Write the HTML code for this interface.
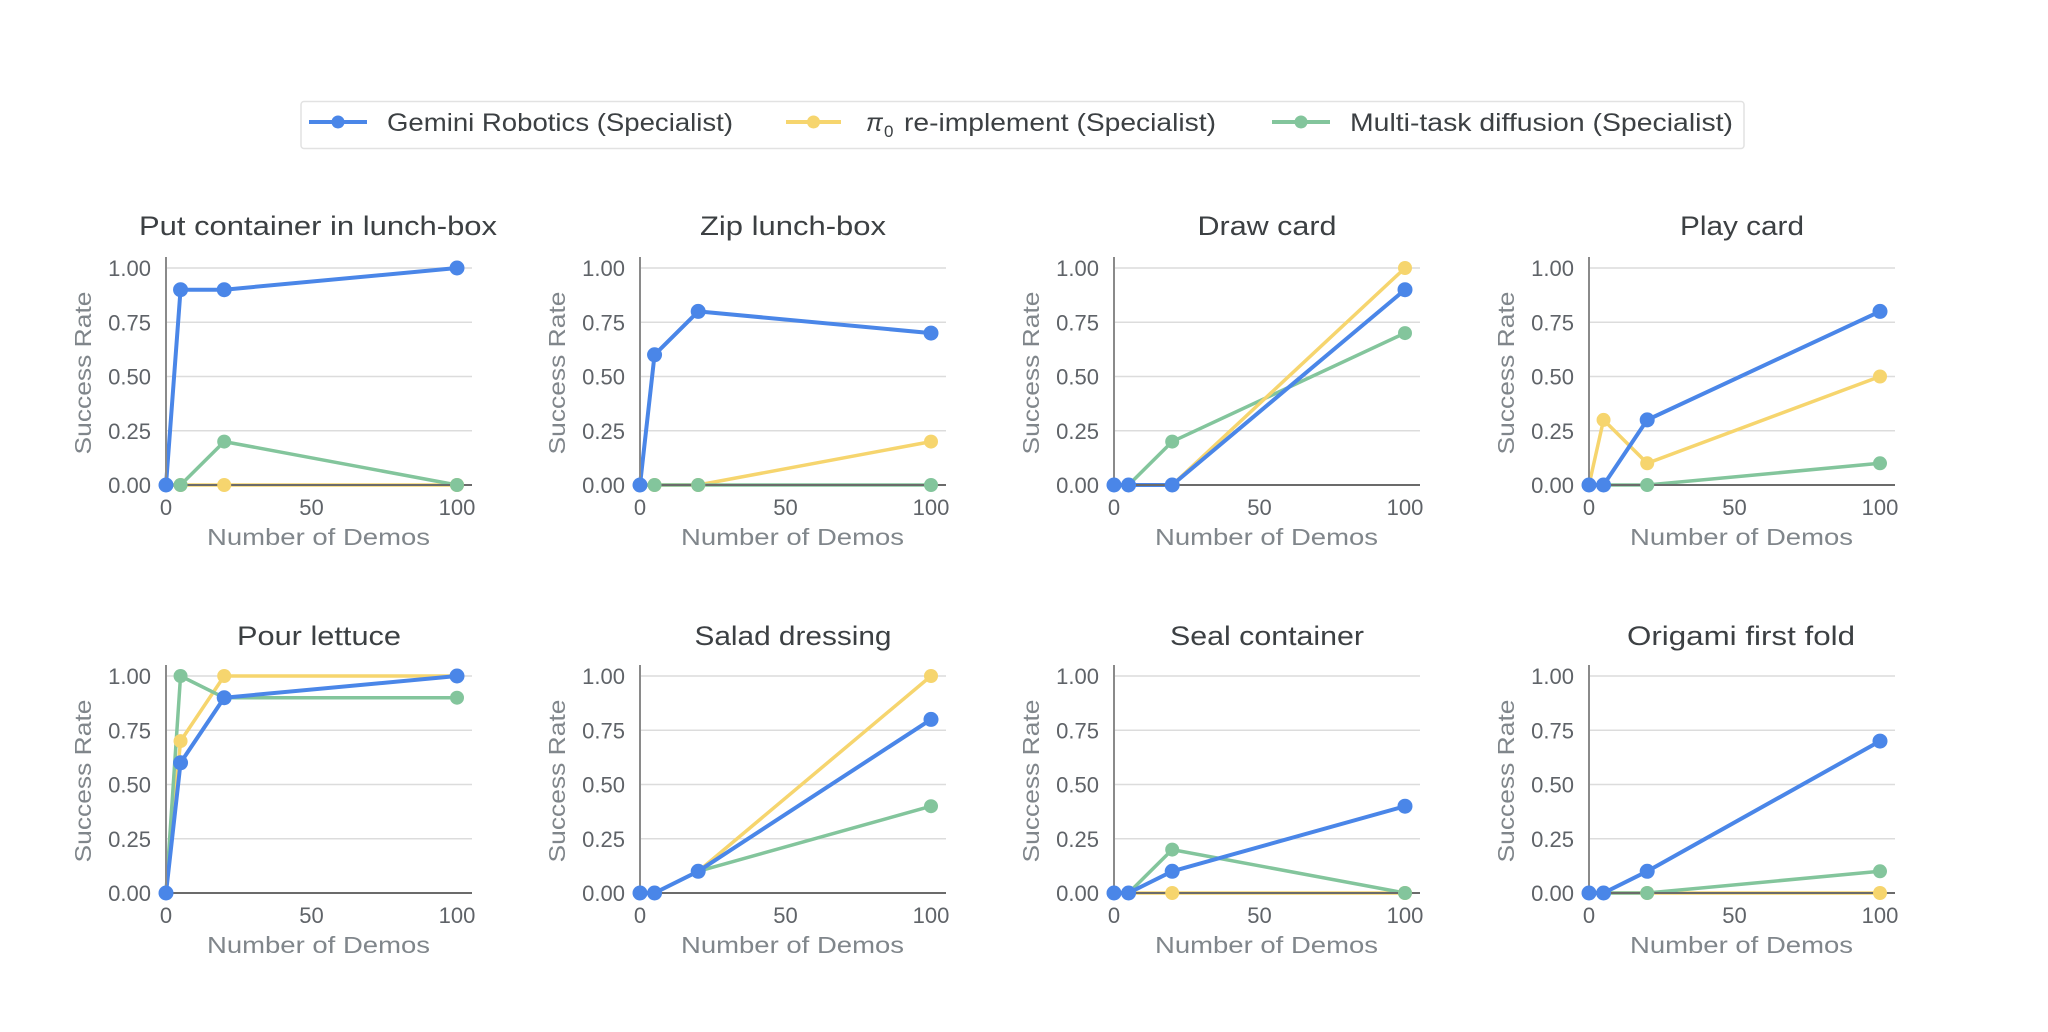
<!DOCTYPE html>
<html><head><meta charset="utf-8">
<style>
html,body{margin:0;padding:0;background:#fff;}
svg{display:block;}
text{font-family:"Liberation Sans",Arial,sans-serif;}
.tt{font-size:27px;fill:#3c4043;text-anchor:middle;}
.yt{font-size:22px;fill:#5f6368;text-anchor:end;}
.xt{font-size:22px;fill:#5f6368;text-anchor:middle;}
.al{font-size:23px;fill:#80868b;text-anchor:middle;}
.lg{font-size:25px;fill:#3c4043;}
.grid{stroke:#dcdcdc;stroke-width:1.5;}
.ax{stroke:#6b6b6b;stroke-width:2;}
.ay{stroke:#8a8a8a;stroke-width:2;}
.B{fill:none;stroke:#4a86e8;stroke-width:4;stroke-linejoin:round;}
.Y{fill:none;stroke:#f6d56e;stroke-width:3.5;stroke-linejoin:round;}
.G{fill:none;stroke:#83c59c;stroke-width:3.5;stroke-linejoin:round;}
.bm{fill:#4a86e8;}
.ym{fill:#f6d56e;}
.gm{fill:#83c59c;}
</style></head>
<body>
<svg width="2048" height="1032" viewBox="0 0 2048 1032" xmlns="http://www.w3.org/2000/svg">
<rect width="2048" height="1032" fill="#fff"/>

<!-- Legend -->
<rect x="301" y="101.5" width="1443" height="47" rx="3" fill="#fff" stroke="#e2e2e2" stroke-width="1.5"/>
<line x1="309" y1="122" x2="367" y2="122" stroke="#4a86e8" stroke-width="4"/>
<circle cx="338" cy="122" r="6.5" class="bm"/>
<text class="lg" x="387" y="131" textLength="346" lengthAdjust="spacingAndGlyphs">Gemini Robotics (Specialist)</text>
<line x1="786" y1="122" x2="841" y2="122" stroke="#f6d56e" stroke-width="4"/>
<circle cx="813.5" cy="122" r="6.5" class="ym"/>
<text class="lg" x="866" y="131" font-style="italic">π</text>
<text x="884" y="137" font-size="17" fill="#3c4043">0</text>
<text class="lg" x="904" y="131" textLength="312" lengthAdjust="spacingAndGlyphs">re-implement (Specialist)</text>
<line x1="1272" y1="122" x2="1330" y2="122" stroke="#83c59c" stroke-width="4"/>
<circle cx="1301" cy="122" r="6.5" class="gm"/>
<text class="lg" x="1350" y="131" textLength="383" lengthAdjust="spacingAndGlyphs">Multi-task diffusion (Specialist)</text>

<!-- P1 -->
<g transform="translate(166,485)">
<line class="grid" x1="0" y1="-54.25" x2="306" y2="-54.25"/><line class="grid" x1="0" y1="-108.5" x2="306" y2="-108.5"/><line class="grid" x1="0" y1="-162.75" x2="306" y2="-162.75"/><line class="grid" x1="0" y1="-217" x2="306" y2="-217"/>
<text class="yt" x="-15" y="8">0.00</text><text class="yt" x="-15" y="-46.25">0.25</text><text class="yt" x="-15" y="-100.5">0.50</text><text class="yt" x="-15" y="-154.75">0.75</text><text class="yt" x="-15" y="-209">1.00</text>
<text class="xt" x="0" y="30">0</text><text class="xt" x="145.5" y="30">50</text><text class="xt" x="291" y="30">100</text>
<text class="al" x="152.5" y="60" textLength="223" lengthAdjust="spacingAndGlyphs">Number of Demos</text>
<text class="al" transform="translate(-75,-112) rotate(-90)" x="0" y="0" textLength="163" lengthAdjust="spacingAndGlyphs">Success Rate</text>
<text class="tt" x="152" y="-250" textLength="358" lengthAdjust="spacingAndGlyphs">Put container in lunch-box</text>
<polyline class="Y" points="0,0 14.55,0 58.2,0 291,0"/>
<polyline class="G" points="0,0 14.55,0 58.2,-43.4 291,0"/>
<polyline class="B" points="0,0 14.55,-195.3 58.2,-195.3 291,-217"/>
<line class="ay" x1="0" y1="-228" x2="0" y2="0"/><line class="ax" x1="0" y1="0" x2="306" y2="0"/>
<circle class="ym" cx="0" cy="0" r="7"/><circle class="ym" cx="14.55" cy="0" r="7"/><circle class="ym" cx="58.2" cy="0" r="7"/><circle class="ym" cx="291" cy="0" r="7"/>
<circle class="gm" cx="0" cy="0" r="7"/><circle class="gm" cx="14.55" cy="0" r="7"/><circle class="gm" cx="58.2" cy="-43.4" r="7"/><circle class="gm" cx="291" cy="0" r="7"/>
<circle class="bm" cx="0" cy="0" r="7.5"/><circle class="bm" cx="14.55" cy="-195.3" r="7.5"/><circle class="bm" cx="58.2" cy="-195.3" r="7.5"/><circle class="bm" cx="291" cy="-217" r="7.5"/>
</g>

<!-- P2 -->
<g transform="translate(640,485)">
<line class="grid" x1="0" y1="-54.25" x2="306" y2="-54.25"/><line class="grid" x1="0" y1="-108.5" x2="306" y2="-108.5"/><line class="grid" x1="0" y1="-162.75" x2="306" y2="-162.75"/><line class="grid" x1="0" y1="-217" x2="306" y2="-217"/>
<text class="yt" x="-15" y="8">0.00</text><text class="yt" x="-15" y="-46.25">0.25</text><text class="yt" x="-15" y="-100.5">0.50</text><text class="yt" x="-15" y="-154.75">0.75</text><text class="yt" x="-15" y="-209">1.00</text>
<text class="xt" x="0" y="30">0</text><text class="xt" x="145.5" y="30">50</text><text class="xt" x="291" y="30">100</text>
<text class="al" x="152.5" y="60" textLength="223" lengthAdjust="spacingAndGlyphs">Number of Demos</text>
<text class="al" transform="translate(-75,-112) rotate(-90)" x="0" y="0" textLength="163" lengthAdjust="spacingAndGlyphs">Success Rate</text>
<text class="tt" x="153" y="-250" textLength="186" lengthAdjust="spacingAndGlyphs">Zip lunch-box</text>
<polyline class="Y" points="0,0 14.55,0 58.2,0 291,-43.4"/>
<polyline class="G" points="0,0 14.55,0 58.2,0 291,0"/>
<polyline class="B" points="0,0 14.55,-130.2 58.2,-173.6 291,-151.9"/>
<line class="ay" x1="0" y1="-228" x2="0" y2="0"/><line class="ax" x1="0" y1="0" x2="306" y2="0"/>
<circle class="ym" cx="0" cy="0" r="7"/><circle class="ym" cx="14.55" cy="0" r="7"/><circle class="ym" cx="58.2" cy="0" r="7"/><circle class="ym" cx="291" cy="-43.4" r="7"/>
<circle class="gm" cx="0" cy="0" r="7"/><circle class="gm" cx="14.55" cy="0" r="7"/><circle class="gm" cx="58.2" cy="0" r="7"/><circle class="gm" cx="291" cy="0" r="7"/>
<circle class="bm" cx="0" cy="0" r="7.5"/><circle class="bm" cx="14.55" cy="-130.2" r="7.5"/><circle class="bm" cx="58.2" cy="-173.6" r="7.5"/><circle class="bm" cx="291" cy="-151.9" r="7.5"/>
</g>

<!-- P3 -->
<g transform="translate(1114,485)">
<line class="grid" x1="0" y1="-54.25" x2="306" y2="-54.25"/><line class="grid" x1="0" y1="-108.5" x2="306" y2="-108.5"/><line class="grid" x1="0" y1="-162.75" x2="306" y2="-162.75"/><line class="grid" x1="0" y1="-217" x2="306" y2="-217"/>
<text class="yt" x="-15" y="8">0.00</text><text class="yt" x="-15" y="-46.25">0.25</text><text class="yt" x="-15" y="-100.5">0.50</text><text class="yt" x="-15" y="-154.75">0.75</text><text class="yt" x="-15" y="-209">1.00</text>
<text class="xt" x="0" y="30">0</text><text class="xt" x="145.5" y="30">50</text><text class="xt" x="291" y="30">100</text>
<text class="al" x="152.5" y="60" textLength="223" lengthAdjust="spacingAndGlyphs">Number of Demos</text>
<text class="al" transform="translate(-75,-112) rotate(-90)" x="0" y="0" textLength="163" lengthAdjust="spacingAndGlyphs">Success Rate</text>
<text class="tt" x="153" y="-250" textLength="139" lengthAdjust="spacingAndGlyphs">Draw card</text>
<polyline class="G" points="0,0 14.55,0 58.2,-43.4 291,-151.9"/>
<polyline class="Y" points="0,0 14.55,0 58.2,0 291,-217"/>
<polyline class="B" points="0,0 14.55,0 58.2,0 291,-195.3"/>
<line class="ay" x1="0" y1="-228" x2="0" y2="0"/><line class="ax" x1="0" y1="0" x2="306" y2="0"/>
<circle class="ym" cx="0" cy="0" r="7"/><circle class="ym" cx="14.55" cy="0" r="7"/><circle class="ym" cx="58.2" cy="0" r="7"/><circle class="ym" cx="291" cy="-217" r="7"/>
<circle class="gm" cx="0" cy="0" r="7"/><circle class="gm" cx="14.55" cy="0" r="7"/><circle class="gm" cx="58.2" cy="-43.4" r="7"/><circle class="gm" cx="291" cy="-151.9" r="7"/>
<circle class="bm" cx="0" cy="0" r="7.5"/><circle class="bm" cx="14.55" cy="0" r="7.5"/><circle class="bm" cx="58.2" cy="0" r="7.5"/><circle class="bm" cx="291" cy="-195.3" r="7.5"/>
</g>

<!-- P4 -->
<g transform="translate(1589,485)">
<line class="grid" x1="0" y1="-54.25" x2="306" y2="-54.25"/><line class="grid" x1="0" y1="-108.5" x2="306" y2="-108.5"/><line class="grid" x1="0" y1="-162.75" x2="306" y2="-162.75"/><line class="grid" x1="0" y1="-217" x2="306" y2="-217"/>
<text class="yt" x="-15" y="8">0.00</text><text class="yt" x="-15" y="-46.25">0.25</text><text class="yt" x="-15" y="-100.5">0.50</text><text class="yt" x="-15" y="-154.75">0.75</text><text class="yt" x="-15" y="-209">1.00</text>
<text class="xt" x="0" y="30">0</text><text class="xt" x="145.5" y="30">50</text><text class="xt" x="291" y="30">100</text>
<text class="al" x="152.5" y="60" textLength="223" lengthAdjust="spacingAndGlyphs">Number of Demos</text>
<text class="al" transform="translate(-75,-112) rotate(-90)" x="0" y="0" textLength="163" lengthAdjust="spacingAndGlyphs">Success Rate</text>
<text class="tt" x="153" y="-250" textLength="124" lengthAdjust="spacingAndGlyphs">Play card</text>
<polyline class="Y" points="0,0 14.55,-65.1 58.2,-21.7 291,-108.5"/>
<polyline class="G" points="0,0 14.55,0 58.2,0 291,-21.7"/>
<polyline class="B" points="0,0 14.55,0 58.2,-65.1 291,-173.6"/>
<line class="ay" x1="0" y1="-228" x2="0" y2="0"/><line class="ax" x1="0" y1="0" x2="306" y2="0"/>
<circle class="ym" cx="0" cy="0" r="7"/><circle class="ym" cx="14.55" cy="-65.1" r="7"/><circle class="ym" cx="58.2" cy="-21.7" r="7"/><circle class="ym" cx="291" cy="-108.5" r="7"/>
<circle class="gm" cx="0" cy="0" r="7"/><circle class="gm" cx="14.55" cy="0" r="7"/><circle class="gm" cx="58.2" cy="0" r="7"/><circle class="gm" cx="291" cy="-21.7" r="7"/>
<circle class="bm" cx="0" cy="0" r="7.5"/><circle class="bm" cx="14.55" cy="0" r="7.5"/><circle class="bm" cx="58.2" cy="-65.1" r="7.5"/><circle class="bm" cx="291" cy="-173.6" r="7.5"/>
</g>

<!-- P5 -->
<g transform="translate(166,893)">
<line class="grid" x1="0" y1="-54.25" x2="306" y2="-54.25"/><line class="grid" x1="0" y1="-108.5" x2="306" y2="-108.5"/><line class="grid" x1="0" y1="-162.75" x2="306" y2="-162.75"/><line class="grid" x1="0" y1="-217" x2="306" y2="-217"/>
<text class="yt" x="-15" y="8">0.00</text><text class="yt" x="-15" y="-46.25">0.25</text><text class="yt" x="-15" y="-100.5">0.50</text><text class="yt" x="-15" y="-154.75">0.75</text><text class="yt" x="-15" y="-209">1.00</text>
<text class="xt" x="0" y="30">0</text><text class="xt" x="145.5" y="30">50</text><text class="xt" x="291" y="30">100</text>
<text class="al" x="152.5" y="60" textLength="223" lengthAdjust="spacingAndGlyphs">Number of Demos</text>
<text class="al" transform="translate(-75,-112) rotate(-90)" x="0" y="0" textLength="163" lengthAdjust="spacingAndGlyphs">Success Rate</text>
<text class="tt" x="153" y="-248" textLength="164" lengthAdjust="spacingAndGlyphs">Pour lettuce</text>
<polyline class="Y" points="0,0 14.55,-151.9 58.2,-217 291,-217"/>
<polyline class="G" points="0,0 14.55,-217 58.2,-195.3 291,-195.3"/>
<polyline class="B" points="0,0 14.55,-130.2 58.2,-195.3 291,-217"/>
<line class="ay" x1="0" y1="-228" x2="0" y2="0"/><line class="ax" x1="0" y1="0" x2="306" y2="0"/>
<circle class="ym" cx="0" cy="0" r="7"/><circle class="ym" cx="14.55" cy="-151.9" r="7"/><circle class="ym" cx="58.2" cy="-217" r="7"/><circle class="ym" cx="291" cy="-217" r="7"/>
<circle class="gm" cx="0" cy="0" r="7"/><circle class="gm" cx="14.55" cy="-217" r="7"/><circle class="gm" cx="58.2" cy="-195.3" r="7"/><circle class="gm" cx="291" cy="-195.3" r="7"/>
<circle class="bm" cx="0" cy="0" r="7.5"/><circle class="bm" cx="14.55" cy="-130.2" r="7.5"/><circle class="bm" cx="58.2" cy="-195.3" r="7.5"/><circle class="bm" cx="291" cy="-217" r="7.5"/>
</g>

<!-- P6 -->
<g transform="translate(640,893)">
<line class="grid" x1="0" y1="-54.25" x2="306" y2="-54.25"/><line class="grid" x1="0" y1="-108.5" x2="306" y2="-108.5"/><line class="grid" x1="0" y1="-162.75" x2="306" y2="-162.75"/><line class="grid" x1="0" y1="-217" x2="306" y2="-217"/>
<text class="yt" x="-15" y="8">0.00</text><text class="yt" x="-15" y="-46.25">0.25</text><text class="yt" x="-15" y="-100.5">0.50</text><text class="yt" x="-15" y="-154.75">0.75</text><text class="yt" x="-15" y="-209">1.00</text>
<text class="xt" x="0" y="30">0</text><text class="xt" x="145.5" y="30">50</text><text class="xt" x="291" y="30">100</text>
<text class="al" x="152.5" y="60" textLength="223" lengthAdjust="spacingAndGlyphs">Number of Demos</text>
<text class="al" transform="translate(-75,-112) rotate(-90)" x="0" y="0" textLength="163" lengthAdjust="spacingAndGlyphs">Success Rate</text>
<text class="tt" x="153" y="-248" textLength="197" lengthAdjust="spacingAndGlyphs">Salad dressing</text>
<polyline class="Y" points="0,0 14.55,0 58.2,-21.7 291,-217"/>
<polyline class="G" points="0,0 14.55,0 58.2,-21.7 291,-86.8"/>
<polyline class="B" points="0,0 14.55,0 58.2,-21.7 291,-173.6"/>
<line class="ay" x1="0" y1="-228" x2="0" y2="0"/><line class="ax" x1="0" y1="0" x2="306" y2="0"/>
<circle class="ym" cx="0" cy="0" r="7"/><circle class="ym" cx="14.55" cy="0" r="7"/><circle class="ym" cx="58.2" cy="-21.7" r="7"/><circle class="ym" cx="291" cy="-217" r="7"/>
<circle class="gm" cx="0" cy="0" r="7"/><circle class="gm" cx="14.55" cy="0" r="7"/><circle class="gm" cx="58.2" cy="-21.7" r="7"/><circle class="gm" cx="291" cy="-86.8" r="7"/>
<circle class="bm" cx="0" cy="0" r="7.5"/><circle class="bm" cx="14.55" cy="0" r="7.5"/><circle class="bm" cx="58.2" cy="-21.7" r="7.5"/><circle class="bm" cx="291" cy="-173.6" r="7.5"/>
</g>

<!-- P7 -->
<g transform="translate(1114,893)">
<line class="grid" x1="0" y1="-54.25" x2="306" y2="-54.25"/><line class="grid" x1="0" y1="-108.5" x2="306" y2="-108.5"/><line class="grid" x1="0" y1="-162.75" x2="306" y2="-162.75"/><line class="grid" x1="0" y1="-217" x2="306" y2="-217"/>
<text class="yt" x="-15" y="8">0.00</text><text class="yt" x="-15" y="-46.25">0.25</text><text class="yt" x="-15" y="-100.5">0.50</text><text class="yt" x="-15" y="-154.75">0.75</text><text class="yt" x="-15" y="-209">1.00</text>
<text class="xt" x="0" y="30">0</text><text class="xt" x="145.5" y="30">50</text><text class="xt" x="291" y="30">100</text>
<text class="al" x="152.5" y="60" textLength="223" lengthAdjust="spacingAndGlyphs">Number of Demos</text>
<text class="al" transform="translate(-75,-112) rotate(-90)" x="0" y="0" textLength="163" lengthAdjust="spacingAndGlyphs">Success Rate</text>
<text class="tt" x="153" y="-248" textLength="194" lengthAdjust="spacingAndGlyphs">Seal container</text>
<polyline class="Y" points="0,0 14.55,0 58.2,0 291,0"/>
<polyline class="G" points="0,0 14.55,0 58.2,-43.4 291,0"/>
<polyline class="B" points="0,0 14.55,0 58.2,-21.7 291,-86.8"/>
<line class="ay" x1="0" y1="-228" x2="0" y2="0"/><line class="ax" x1="0" y1="0" x2="306" y2="0"/>
<circle class="ym" cx="0" cy="0" r="7"/><circle class="ym" cx="14.55" cy="0" r="7"/><circle class="ym" cx="58.2" cy="0" r="7"/><circle class="ym" cx="291" cy="0" r="7"/>
<circle class="gm" cx="0" cy="0" r="7"/><circle class="gm" cx="14.55" cy="0" r="7"/><circle class="gm" cx="58.2" cy="-43.4" r="7"/><circle class="gm" cx="291" cy="0" r="7"/>
<circle class="bm" cx="0" cy="0" r="7.5"/><circle class="bm" cx="14.55" cy="0" r="7.5"/><circle class="bm" cx="58.2" cy="-21.7" r="7.5"/><circle class="bm" cx="291" cy="-86.8" r="7.5"/>
</g>

<!-- P8 -->
<g transform="translate(1589,893)">
<line class="grid" x1="0" y1="-54.25" x2="306" y2="-54.25"/><line class="grid" x1="0" y1="-108.5" x2="306" y2="-108.5"/><line class="grid" x1="0" y1="-162.75" x2="306" y2="-162.75"/><line class="grid" x1="0" y1="-217" x2="306" y2="-217"/>
<text class="yt" x="-15" y="8">0.00</text><text class="yt" x="-15" y="-46.25">0.25</text><text class="yt" x="-15" y="-100.5">0.50</text><text class="yt" x="-15" y="-154.75">0.75</text><text class="yt" x="-15" y="-209">1.00</text>
<text class="xt" x="0" y="30">0</text><text class="xt" x="145.5" y="30">50</text><text class="xt" x="291" y="30">100</text>
<text class="al" x="152.5" y="60" textLength="223" lengthAdjust="spacingAndGlyphs">Number of Demos</text>
<text class="al" transform="translate(-75,-112) rotate(-90)" x="0" y="0" textLength="163" lengthAdjust="spacingAndGlyphs">Success Rate</text>
<text class="tt" x="152" y="-248" textLength="228" lengthAdjust="spacingAndGlyphs">Origami first fold</text>
<polyline class="Y" points="0,0 14.55,0 58.2,0 291,0"/>
<polyline class="G" points="0,0 14.55,0 58.2,0 291,-21.7"/>
<polyline class="B" points="0,0 14.55,0 58.2,-21.7 291,-151.9"/>
<line class="ay" x1="0" y1="-228" x2="0" y2="0"/><line class="ax" x1="0" y1="0" x2="306" y2="0"/>
<circle class="ym" cx="0" cy="0" r="7"/><circle class="ym" cx="14.55" cy="0" r="7"/><circle class="ym" cx="58.2" cy="0" r="7"/><circle class="ym" cx="291" cy="0" r="7"/>
<circle class="gm" cx="0" cy="0" r="7"/><circle class="gm" cx="14.55" cy="0" r="7"/><circle class="gm" cx="58.2" cy="0" r="7"/><circle class="gm" cx="291" cy="-21.7" r="7"/>
<circle class="bm" cx="0" cy="0" r="7.5"/><circle class="bm" cx="14.55" cy="0" r="7.5"/><circle class="bm" cx="58.2" cy="-21.7" r="7.5"/><circle class="bm" cx="291" cy="-151.9" r="7.5"/>
</g>
</svg>
</body></html>
